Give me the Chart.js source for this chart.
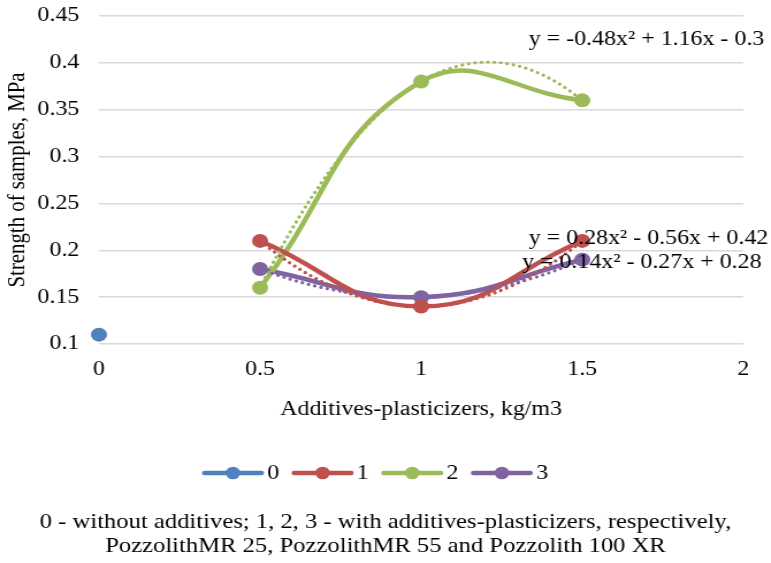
<!DOCTYPE html>
<html>
<head>
<meta charset="utf-8">
<script src="https://cdn.jsdelivr.net/npm/chart.js@4"></script>
<style>
  html, body { margin: 0; padding: 0; background: #fff; overflow: hidden; }
  /* the reference is stretched sideways, so the chart is drawn narrower and widened */
  #wrap { width: 670px; height: 563px; transform: scaleX(1.1507); transform-origin: 0 0; }
</style>
</head>
<body>
<div id="wrap"><canvas id="chart"></canvas></div>
<script>
// data
const xValues = [0.5, 1, 1.5];
const series0X = [0];
const series0 = [0.11];
const series1 = [0.21, 0.14, 0.21];
const series2 = [0.16, 0.38, 0.36];
const series3 = [0.18, 0.15, 0.19];
const seriesNames = ['0', '1', '2', '3'];
const xTicks = [0, 0.5, 1, 1.5, 2];
const yTicks = [0.1, 0.15, 0.2, 0.25, 0.3, 0.35, 0.4, 0.45];

// polynomial trendlines as printed on the chart: y = a*x^2 + b*x + c
const trend1 = [0.28, -0.56, 0.42];
const trend2 = [-0.48, 1.16, -0.3];
const trend3 = [0.14, -0.27, 0.28];
const eqTexts = ['y = 0.28x² - 0.56x + 0.42', 'y = -0.48x² + 1.16x - 0.3', 'y = 0.14x² - 0.27x + 0.28'];
const eqAnchorX = [1.334, 1.334, 1.313];
const eqAnchorY = [0.213, 0.425, 0.187];

const footnote = [
    '0 - without additives; 1, 2, 3 - with additives-plasticizers, respectively,',
    'PozzolithMR 25, PozzolithMR 55 and Pozzolith 100 XR'
];

const colors = ['#4F81BD', '#C0504D', '#9BBB59', '#8064A2'];
const FONT = "'Liberation Serif', 'Times New Roman', serif";
const FS = 20.8;

const pts = (xs, ys) => ys.map((v, i) => ({ x: xs[i], y: v }));

const makeSet = (i, data) => ({
    label: seriesNames[i],
    data: data,
    borderColor: colors[i],
    backgroundColor: colors[i],
    borderWidth: 4.5,
    pointRadius: 7,
    pointHoverRadius: 7,
    pointBorderWidth: 0,
    tension: 0.45,
    showLine: i > 0,
    clip: false,
    borderCapStyle: 'round'
});

const trends = [
    { c: trend1, color: colors[1] },
    { c: trend2, color: colors[2] },
    { c: trend3, color: colors[3] }
];

const trendPlugin = {
    id: 'trendlines',
    afterDatasetsDraw(chart) {
        const { ctx, scales: { x, y } } = chart;
        const from = xValues[0], to = xValues[xValues.length - 1];
        trends.forEach(t => {
            ctx.save();
            ctx.strokeStyle = t.color;
            ctx.lineWidth = 3.2;
            ctx.lineCap = 'round';
            ctx.setLineDash([0.01, 5.6]);
            ctx.beginPath();
            for (let k = 0; k <= 120; k++) {
                const xv = from + (to - from) * k / 120;
                const yv = t.c[0] * xv * xv + t.c[1] * xv + t.c[2];
                const px = x.getPixelForValue(xv), py = y.getPixelForValue(yv);
                if (k === 0) ctx.moveTo(px, py); else ctx.lineTo(px, py);
            }
            ctx.stroke();
            ctx.restore();
        });
        // equation labels
        ctx.save();
        ctx.font = FS + 'px ' + FONT;
        ctx.fillStyle = '#000';
        ctx.textBaseline = 'middle';
        ctx.textAlign = 'left';
        eqTexts.forEach((txt, i) => {
            ctx.fillText(txt, x.getPixelForValue(eqAnchorX[i]), y.getPixelForValue(eqAnchorY[i]));
        });
        ctx.restore();
    }
};

const legendPlugin = {
    id: 'bottomLegend',
    afterDraw(chart) {
        const ctx = chart.ctx;
        ctx.save();
        ctx.font = FS + 'px ' + FONT;
        const lineLen = 49.5, gapText = 5, gapItem = 13;
        const widths = seriesNames.map(n => lineLen + gapText + ctx.measureText(n).width);
        const total = widths.reduce((a, b) => a + b, 0) + gapItem * (widths.length - 1);
        let x0 = 327 - total / 2;
        const ly = 473;
        seriesNames.forEach((n, i) => {
            ctx.strokeStyle = colors[i];
            ctx.fillStyle = colors[i];
            ctx.lineWidth = 4.5;
            ctx.lineCap = 'round';
            ctx.beginPath();
            ctx.moveTo(x0, ly);
            ctx.lineTo(x0 + lineLen, ly);
            ctx.stroke();
            ctx.beginPath();
            ctx.arc(x0 + lineLen / 2, ly, 6.3, 0, Math.PI * 2);
            ctx.fill();
            ctx.fillStyle = '#000';
            ctx.textAlign = 'left';
            ctx.textBaseline = 'middle';
            ctx.fillText(n, x0 + lineLen + gapText, ly + 1);
            x0 += widths[i] + gapItem;
        });
        // footnote under the legend
        ctx.font = '21.4px ' + FONT;
        ctx.textAlign = 'center';
        footnote.forEach((line, i) => {
            ctx.fillText(line, 335, 522 + i * 24);
        });
        ctx.restore();
    }
};

new Chart(document.getElementById('chart'), {
    type: 'line',
    data: {
        datasets: [
            makeSet(0, pts(series0X, series0)),
            makeSet(1, pts(xValues, series1)),
            makeSet(2, pts(xValues, series2)),
            makeSet(3, pts(xValues, series3))
        ]
    },
    options: {
        responsive: true,
        maintainAspectRatio: false,
        animation: false,
        events: [],
        layout: { padding: { left: 0, right: 24, top: 16, bottom: 139 } },
        plugins: {
            legend: { display: false },
            tooltip: { enabled: false }
        },
        scales: {
            x: {
                type: 'linear',
                min: 0,
                max: 2,
                afterBuildTicks: s => { s.ticks = xTicks.map(v => ({ value: v })); },
                afterFit: s => { s.height = 80; },
                grid: { display: false, drawTicks: false },
                border: { display: false },
                ticks: {
                    padding: 13,
                    color: '#000',
                    font: { family: FONT, size: FS },
                    callback: v => String(+v.toFixed(2))
                },
                title: {
                    display: true,
                    text: 'Additives-plasticizers, kg/m3',
                    color: '#000',
                    font: { family: FONT, size: FS },
                    padding: { top: 0, bottom: 2 }
                }
            },
            y: {
                min: 0.1,
                max: 0.45,
                afterBuildTicks: s => { s.ticks = yTicks.map(v => ({ value: v })); },
                afterFit: s => {
                    s.width = 86;
                    // tick padding is meant sideways only, keep it off the top/bottom
                    s.paddingTop = 0;
                    s.paddingBottom = 0;
                },
                grid: { color: '#d9d9d9', lineWidth: 1.5, drawTicks: false },
                border: { display: false },
                ticks: {
                    padding: 17,
                    color: '#000',
                    font: { family: FONT, size: FS },
                    callback: v => String(+v.toFixed(2))
                },
                title: {
                    display: true,
                    text: 'Strength of samples, MPa',
                    color: '#000',
                    font: { family: FONT, size: FS },
                    padding: { top: 3, bottom: 0 }
                }
            }
        }
    },
    plugins: [trendPlugin, legendPlugin]
});
</script>
</body>
</html>
